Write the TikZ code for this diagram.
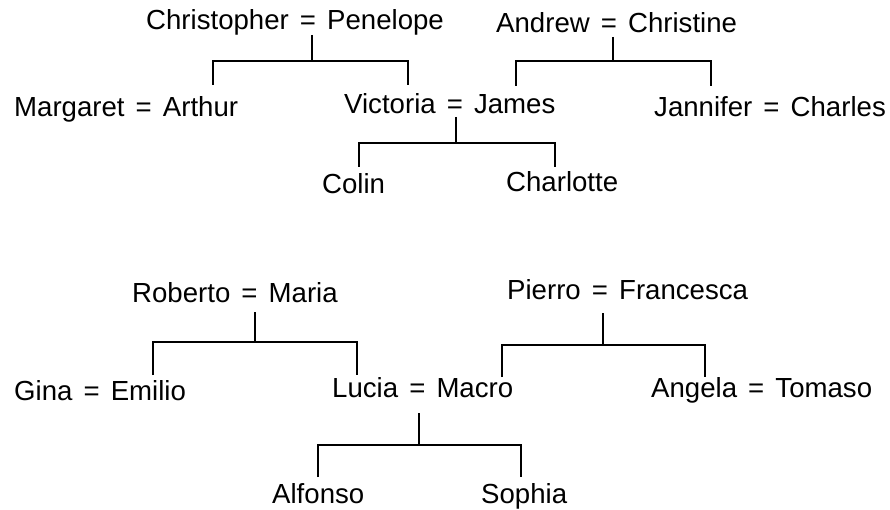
\documentclass[tikz,border=0pt]{standalone}
\usepackage{fontspec}
\setmainfont[WordSpace=1.45]{Liberation Sans}
\begin{document}
\begin{tikzpicture}[x=1pt,y=-1pt,
  person/.style={anchor=base west,inner sep=0pt,font=\fontsize{27.6}{33}\selectfont},
  link/.style={line width=1.6pt,line cap=butt,line join=miter}]
\fill[white] (0,0) rectangle (890,510);
\useasboundingbox (0,0) rectangle (890,510);
% nodes
\node[person] (cp) at (146,30) {Christopher = Penelope};
\node[person] (ac) at (496,33) {Andrew = Christine};
\node[person] (ma) at (14,117) {Margaret = Arthur};
\node[person] (vj) at (344,114) {Victoria = James};
\node[person] (jc) at (654,117) {Jannifer = Charles};
\node[person] (co) at (322,194) {Colin};
\node[person] (ch) at (506,192) {Charlotte};
\node[person] (rm) at (132,302) {Roberto = Maria};
\node[person] (pf) at (507,299) {Pierro = Francesca};
\node[person] (ge) at (14,400) {Gina = Emilio};
\node[person] (lm) at (332,397) {Lucia = Macro};
\node[person] (at) at (651,397) {Angela = Tomaso};
\node[person] (al) at (272,503) {Alfonso};
\node[person] (so) at (481,503) {Sophia};
% junctions
\coordinate (j1) at (312,61);  \coordinate (l1) at (213,61);  \coordinate (r1) at (408,61);
\coordinate (j2) at (613,61);  \coordinate (l2) at (516,61);  \coordinate (r2) at (711,61);
\coordinate (j3) at (456,143); \coordinate (l3) at (359,143); \coordinate (r3) at (555,143);
\coordinate (j4) at (255,342); \coordinate (l4) at (153,342); \coordinate (r4) at (357,342);
\coordinate (j5) at (603,345); \coordinate (l5) at (502,345); \coordinate (r5) at (705,345);
\coordinate (j6) at (419,445); \coordinate (l6) at (318,445); \coordinate (r6) at (521,445);
% connectors
\draw[link] ([yshift=-5pt]cp.base -| j1) -- (j1);
\draw[link] ([yshift=32pt]ma.base -| l1) -- (l1) -- (r1) -- ([yshift=29pt]vj.base -| r1);
\draw[link] ([yshift=-4pt]ac.base -| j2) -- (j2);
\draw[link] ([yshift=28pt]vj.base -| l2) -- (l2) -- (r2) -- ([yshift=31pt]jc.base -| r2);
\draw[link] ([yshift=-3pt]vj.base -| j3) -- (j3);
\draw[link] ([yshift=27pt]co.base -| l3) -- (l3) -- (r3) -- ([yshift=25pt]ch.base -| r3);
\draw[link] ([yshift=-10pt]rm.base -| j4) -- (j4);
\draw[link] ([yshift=25pt]ge.base -| l4) -- (l4) -- (r4) -- ([yshift=22pt]lm.base -| r4);
\draw[link] ([yshift=-14pt]pf.base -| j5) -- (j5);
\draw[link] ([yshift=20pt]lm.base -| l5) -- (l5) -- (r5) -- ([yshift=20pt]at.base -| r5);
\draw[link] ([yshift=-16pt]lm.base -| j6) -- (j6);
\draw[link] ([yshift=26pt]al.base -| l6) -- (l6) -- (r6) -- ([yshift=26pt]so.base -| r6);
\end{tikzpicture}
\end{document}
